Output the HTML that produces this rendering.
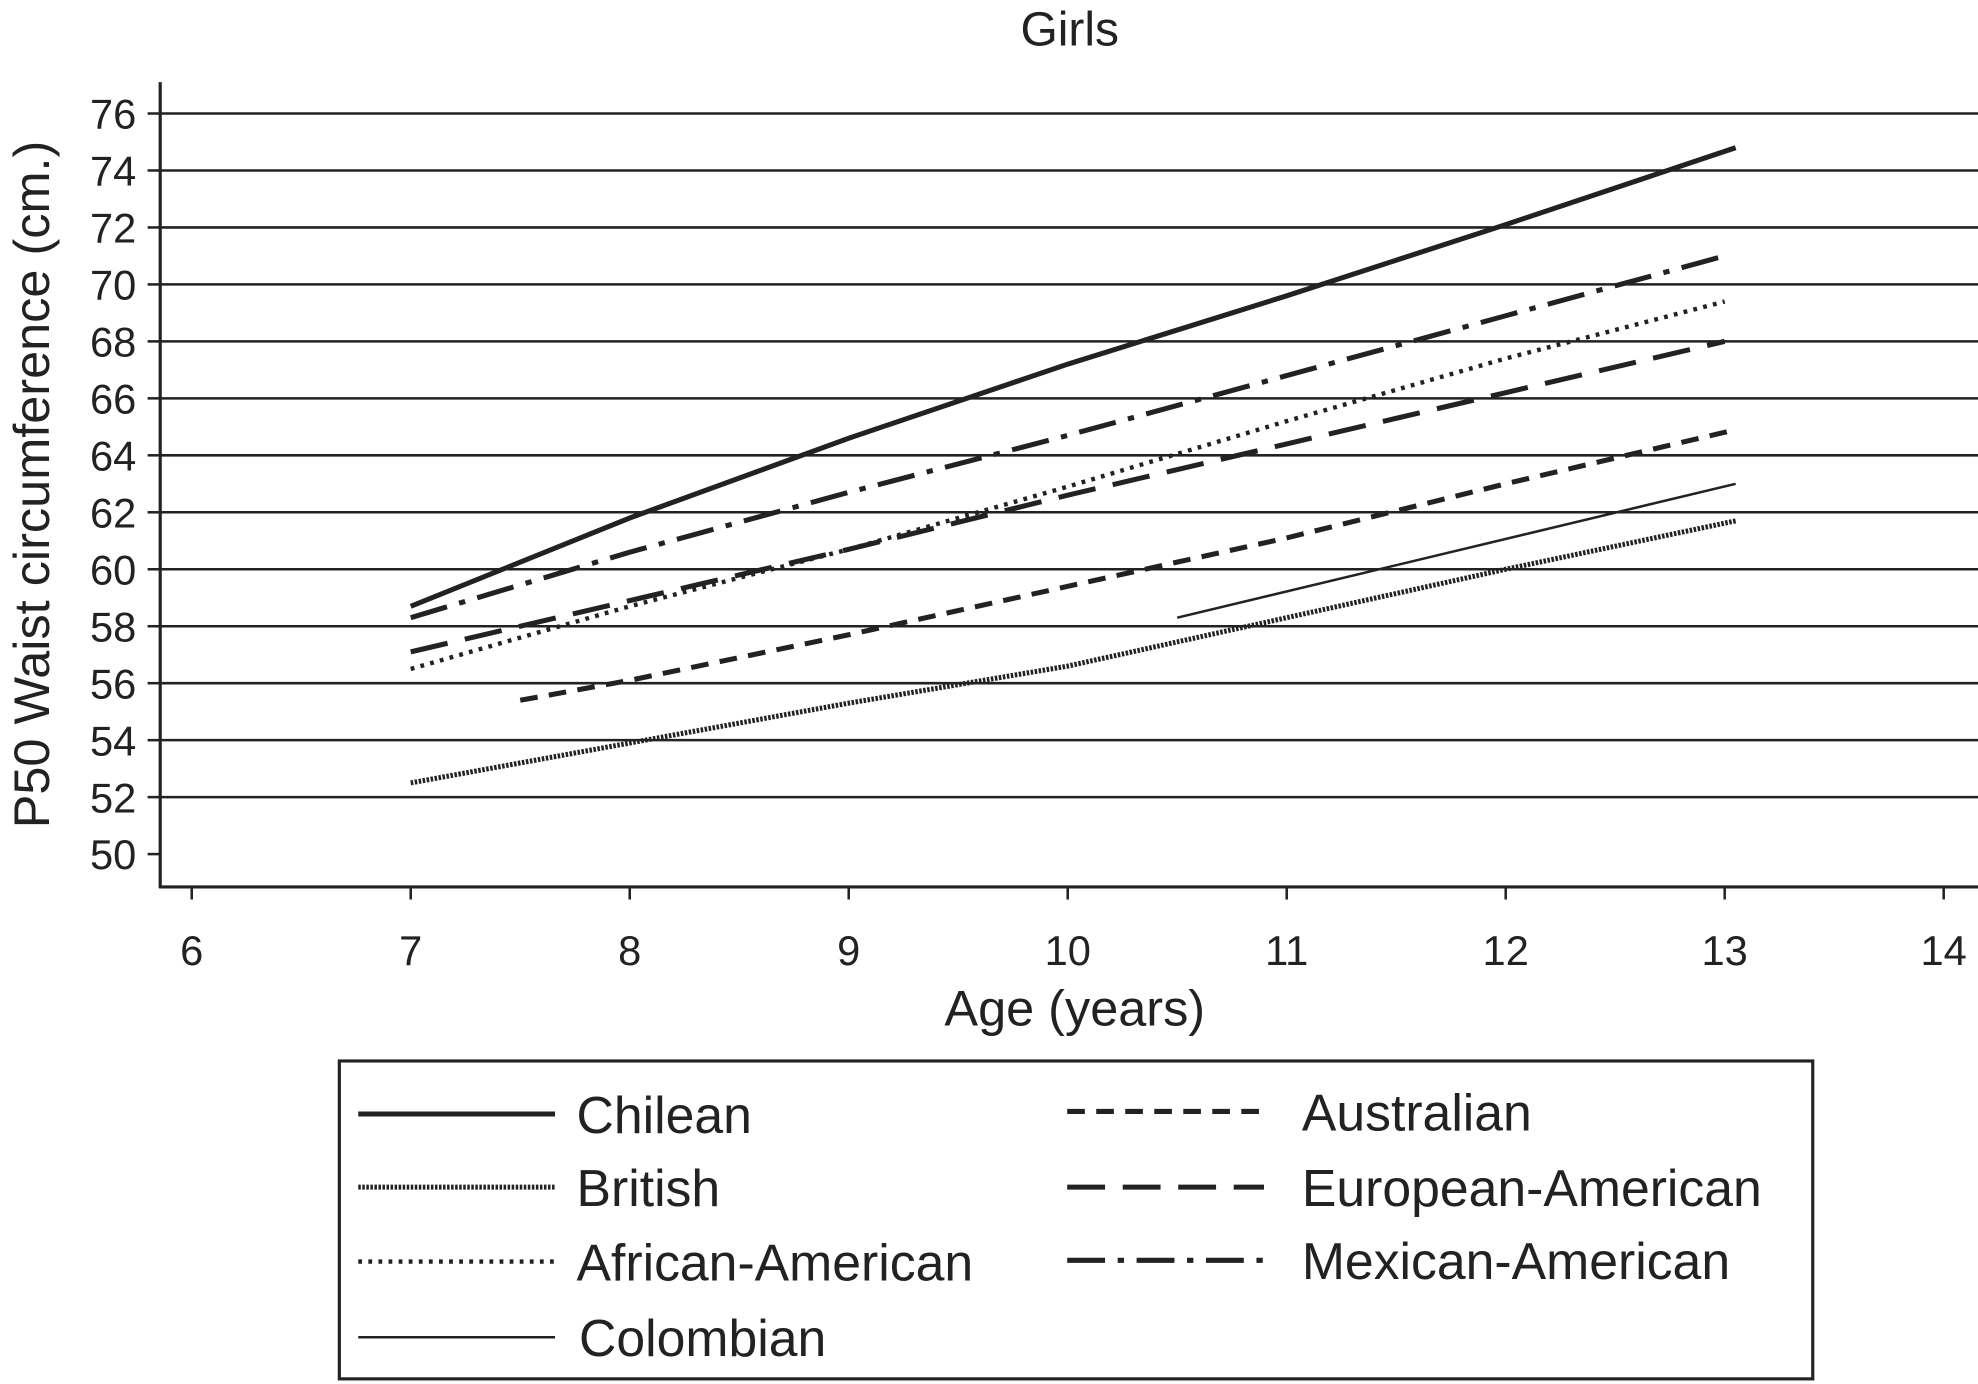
<!DOCTYPE html>
<html><head><meta charset="utf-8"><style>
html,body{margin:0;padding:0;background:#fff}
svg{display:block;font-family:"Liberation Sans",Arial,sans-serif}
</style></head><body>
<svg id="chart" width="1978" height="1384" viewBox="0 0 1568 1097" xmlns="http://www.w3.org/2000/svg">
<rect width="1568" height="1097" fill="#fff"/>
<text x="848" y="36" font-size="38" text-anchor="middle" fill="#222">Girls</text>
<g id="grid"></g>
<g id="axes"></g>
<g id="series"></g>
<text x="852" y="813" font-size="40" text-anchor="middle" fill="#222">Age (years)</text>
<text transform="translate(39,384) rotate(-90)" font-size="40" text-anchor="middle" fill="#222">P50 Waist circumference (cm.)</text>
<g id="legend">
<rect x="269" y="841" width="1168" height="252" fill="none" stroke="#222" stroke-width="2.5"/>
</g>
</svg>
<script>
const xTicks=[6,7,8,9,10,11,12,13,14];
const yTicks=[50,52,54,56,58,60,62,64,66,68,70,72,74,76];
const gridVals=[52,54,56,58,60,62,64,66,68,70,72,74,76];
const chileanAge=[7,8,9,10,11,12,13.05];
const chileanVal=[58.7,61.8,64.6,67.2,69.6,72.1,74.8];
const mexicanAge=[7,8,9,10,11,12,13];
const mexicanVal=[58.3,60.6,62.7,64.7,66.8,68.9,71.0];
const africanAge=[7,8,9,10,11,12,13];
const africanVal=[56.5,58.7,60.7,62.9,65.2,67.4,69.4];
const europeanAge=[7,8,9,10,11,12,13];
const europeanVal=[57.1,58.9,60.7,62.6,64.4,66.2,68.0];
const australianAge=[7.5,8,9,10,11,12,13.05];
const australianVal=[55.4,56.1,57.7,59.4,61.1,63.0,64.9];
const colombianAge=[10.5,13.05];
const colombianVal=[58.3,63.0];
const britishAge=[7,8,9,10,11,12,13.05];
const britishVal=[52.5,53.9,55.3,56.6,58.3,60.0,61.7];

const NS="http://www.w3.org/2000/svg";
const sx=v=>152+(v-6)*173.6;
const sy=v=>677-(v-50)*22.58;
function mk(tag,attrs,parent){const e=document.createElementNS(NS,tag);for(const k in attrs)e.setAttribute(k,attrs[k]);parent.appendChild(e);return e;}
const grid=document.getElementById('grid'),axes=document.getElementById('axes'),ser=document.getElementById('series'),leg=document.getElementById('legend');
gridVals.forEach(v=>{const l=mk('line',{x1:127,x2:1568,y1:sy(v),y2:sy(v),stroke:'#222','stroke-width':2},grid);

});
const ya=mk('line',{x1:127,x2:127,y1:65,y2:704,stroke:'#222','stroke-width':2.5},axes);


const xa=mk('line',{x1:126,x2:1568,y1:703,y2:703,stroke:'#222','stroke-width':2.5},axes);


yTicks.forEach(v=>{mk('line',{x1:117,x2:127,y1:sy(v),y2:sy(v),stroke:'#222','stroke-width':2},axes);
const t=mk('text',{x:108,y:sy(v)+12,'font-size':33,'text-anchor':'end',fill:'#222'},axes);t.textContent=v;

});
xTicks.forEach(v=>{mk('line',{x1:sx(v),x2:sx(v),y1:703,y2:713,stroke:'#222','stroke-width':2},axes);
const t=mk('text',{x:sx(v),y:765,'font-size':33,'text-anchor':'middle',fill:'#222'},axes);t.textContent=v;

});
const styles=[
 ['chilean',chileanAge,chileanVal,4,'','Chilean',284,883,173],
 ['british',britishAge,britishVal,4,'2 1.2','British',284,941,173],
 ['african-american',africanAge,africanVal,3.5,'3 5','African-American',284,1000,173],
 ['colombian',colombianAge,colombianVal,2,'','Colombian',284,1060,175],
 ['australian',australianAge,australianVal,4,'14 9','Australian',846,881,186],
 ['european-american',europeanAge,europeanVal,4,'30 14','European-American',846,941,186],
 ['mexican-american',mexicanAge,mexicanVal,4,'30 10 5 10','Mexican-American',846,999,186]];
styles.forEach(s=>{
 const pts=s[1].map((a,i)=>sx(a)+','+sy(s[2][i])).join(' ');
 const p=mk('polyline',{points:pts,fill:'none',stroke:'#222','stroke-width':s[3],'stroke-dasharray':s[4]},ser);
 
 
 const ll=mk('line',{x1:s[6],x2:s[6]+156,y1:s[7],y2:s[7],stroke:'#222','stroke-width':s[3],'stroke-dasharray':s[4]},leg);
 
 
 const t=mk('text',{x:s[6]+s[8],y:s[7]+15,'font-size':41,fill:'#222'},leg);t.textContent=s[5];
 
 
});
</script>
</body></html>
